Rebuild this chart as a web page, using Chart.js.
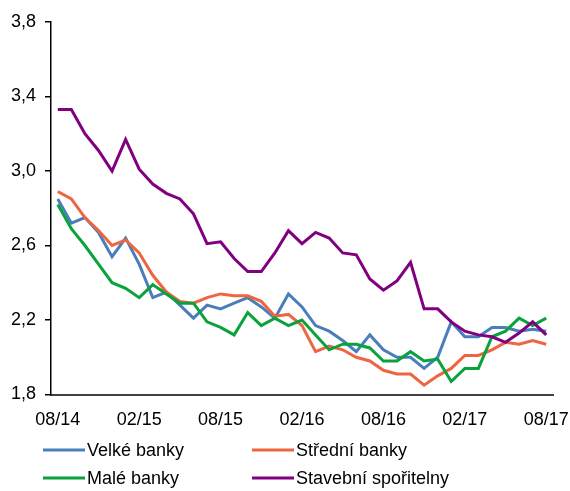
<!DOCTYPE html>
<html>
<head>
<meta charset="utf-8">
<script src="https://cdn.jsdelivr.net/npm/chart.js@4"></script>
<style>
  html, body { margin: 0; padding: 0; background: #ffffff; }
  #c { display: block; }
</style>
</head>
<body>
<canvas id="c" width="570" height="491"></canvas>
<script>
const months = ["08/14","09/14","10/14","11/14","12/14","01/15","02/15","03/15","04/15","05/15","06/15","07/15",
  "08/15","09/15","10/15","11/15","12/15","01/16","02/16","03/16","04/16","05/16","06/16","07/16",
  "08/16","09/16","10/16","11/16","12/16","01/17","02/17","03/17","04/17","05/17","06/17","07/17","08/17"];

const velkeBanky = [2.85,2.72,2.75,2.67,2.54,2.64,2.50,2.32,2.35,2.28,2.21,2.28,
  2.26,2.29,2.32,2.27,2.21,2.34,2.27,2.17,2.14,2.09,2.03,2.12,
  2.04,2.00,2.00,1.94,2.00,2.19,2.11,2.11,2.16,2.16,2.14,2.15,2.14];
const stredniBanky = [2.89,2.85,2.75,2.68,2.60,2.63,2.56,2.44,2.35,2.30,2.29,2.32,
  2.34,2.33,2.33,2.30,2.22,2.23,2.17,2.03,2.06,2.04,2.00,1.98,
  1.93,1.91,1.91,1.85,1.90,1.94,2.01,2.01,2.04,2.08,2.07,2.09,2.07];
const maleBanky = [2.82,2.69,2.60,2.50,2.40,2.37,2.32,2.39,2.34,2.29,2.29,2.19,
  2.16,2.12,2.24,2.17,2.21,2.17,2.20,2.12,2.04,2.07,2.07,2.05,
  1.98,1.98,2.03,1.98,1.99,1.87,1.94,1.94,2.11,2.14,2.21,2.17,2.21];
const stavebniSporitelny = [3.33,3.33,3.20,3.11,3.00,3.17,3.01,2.93,2.88,2.85,2.77,2.61,
  2.62,2.53,2.46,2.46,2.56,2.68,2.61,2.67,2.64,2.56,2.55,2.42,
  2.36,2.41,2.51,2.26,2.26,2.19,2.14,2.12,2.11,2.08,2.13,2.19,2.12];

const seriesNames = ["Velké banky","Střední banky","Malé banky","Stavební spořitelny"];
const yTicks = [1.8, 2.2, 2.6, 3.0, 3.4, 3.8];

const FONT = "'Liberation Sans', Arial, sans-serif";

const legendPlugin = {
  id: 'gridLegend',
  afterDraw(chart) {
    const ctx = chart.ctx;
    const cols = [43, 252];
    const rows = [450, 478];
    ctx.save();
    ctx.font = "18px " + FONT;
    ctx.textBaseline = 'middle';
    ctx.textAlign = 'left';
    chart.data.datasets.forEach((ds, k) => {
      const x = cols[k % 2];
      const y = rows[Math.floor(k / 2)];
      ctx.strokeStyle = ds.borderColor;
      ctx.lineWidth = 3;
      ctx.beginPath();
      ctx.moveTo(x, y);
      ctx.lineTo(x + 42, y);
      ctx.stroke();
      ctx.fillStyle = '#000000';
      ctx.fillText(ds.label, x + 44, y + 1);
    });
    ctx.restore();
  }
};

const mk = (label, data, color, order) => ({
  label, data, borderColor: color, backgroundColor: color,
  borderWidth: 3, pointRadius: 0, tension: 0, fill: false, order
});

new Chart(document.getElementById('c'), {
  type: 'line',
  data: {
    labels: months,
    datasets: [
      mk(seriesNames[0], velkeBanky, '#4A7EBB', 4),
      mk(seriesNames[1], stredniBanky, '#EE6541', 3),
      mk(seriesNames[2], maleBanky, '#0AA23C', 2),
      mk(seriesNames[3], stavebniSporitelny, '#800080', 1)
    ]
  },
  options: {
    responsive: false,
    animation: false,
    devicePixelRatio: 1,
    layout: { padding: { left: 0, right: 17, top: 22, bottom: 0 } },
    plugins: { legend: { display: false }, tooltip: { enabled: false } },
    scales: {
      x: {
        type: 'category',
        offset: true,
        grid: { drawOnChartArea: false, drawTicks: false },
        border: { display: true, color: '#404040', width: 2 },
        ticks: {
          autoSkip: false, maxRotation: 0, minRotation: 0,
          padding: 15,
          color: '#000000',
          font: { family: FONT, size: 18 },
          callback: function(v, i) { return i % 6 === 0 ? months[i] : null; }
        },
        afterFit(scale) { scale.height = 96.5; scale.paddingLeft = 0; scale.paddingRight = 0; }
      },
      y: {
        min: yTicks[0],
        max: yTicks[yTicks.length - 1],
        grid: { drawOnChartArea: false, drawTicks: true, tickLength: 6, color: '#000000', lineWidth: 1.5 },
        border: { display: true, color: '#000000', width: 1.5 },
        afterBuildTicks(scale) { scale.ticks = yTicks.map(v => ({ value: v })); },
        ticks: {
          padding: 9,
          color: '#000000',
          font: { family: FONT, size: 18 },
          callback: function(v) { return Number(v).toFixed(1).replace('.', ','); }
        },
        afterFit(scale) { scale.width = 51; }
      }
    }
  },
  plugins: [legendPlugin]
});
</script>
</body>
</html>
